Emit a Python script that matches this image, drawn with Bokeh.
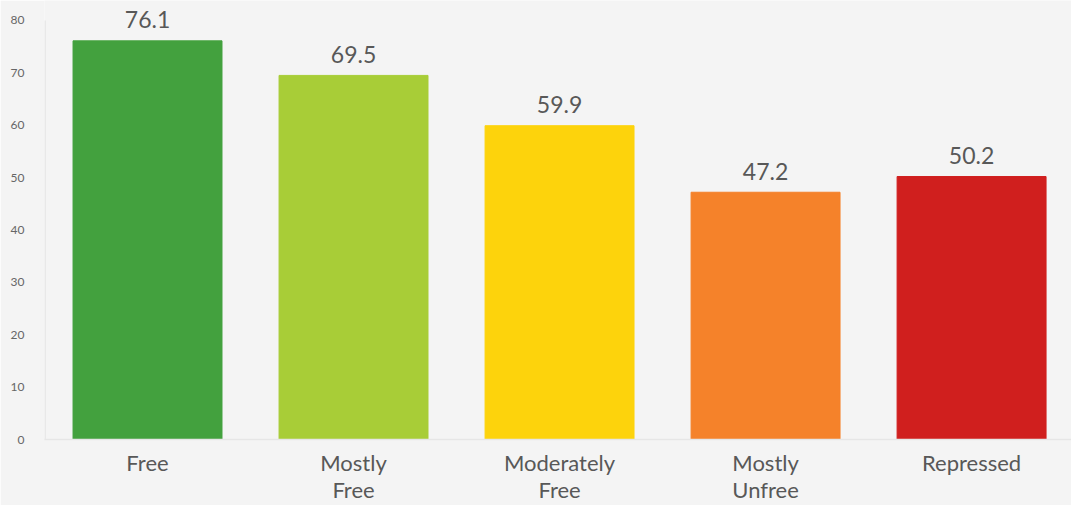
from bokeh.plotting import figure
from bokeh.models import ColumnDataSource, FixedTicker, Range1d
from bokeh.core.properties import value
from bokeh.embed import file_html
from bokeh.resources import INLINE

categories = ["Free", "Mostly\nFree", "Moderately\nFree", "Mostly\nUnfree", "Repressed"]
scores = [76.1, 69.5, 59.9, 47.2, 50.2]
colors = ["#43a13e", "#a8cd37", "#fdd30c", "#f5822a", "#d01f1e"]
y_ticks = [0, 10, 20, 30, 40, 50, 60, 70, 80]

FONT = "Lato"
xs = [i + 0.5 for i in range(len(categories))]

src = ColumnDataSource(dict(
    x=xs, top=scores, color=colors,
    label=[f"{v:.1f}" for v in scores],
))

p = figure(width=1071, height=505, output_backend="svg", toolbar_location=None,
           x_range=Range1d(0, 4.985), y_range=Range1d(0, 83.8),
           background_fill_color="#f4f4f4", border_fill_color="#f4f4f4",
           min_border_left=44, min_border_right=0, min_border_top=0, min_border_bottom=65)
p.outline_line_color = None
p.grid.visible = False

p.vbar(x="x", top="top", width=0.723, bottom=0, color="color", source=src)
p.text(x="x", y="top", text="label", source=src, text_align="center",
       text_baseline="alphabetic", y_offset=-21, text_font=value(FONT),
       text_font_size="23px", text_color="#585858")
p.segment(x0=[0.003], y0=[0], x1=[0.003], y1=[80], line_color="#e6e6e6", line_width=1.5)

p.xaxis.ticker = FixedTicker(ticks=xs)
p.xaxis.major_label_overrides = {x: c for x, c in zip(xs, categories)}
p.xaxis.major_label_text_font = FONT
p.xaxis.major_label_text_font_size = "22px"
p.xaxis.major_label_text_line_height = 1.0
p.xaxis.major_label_text_color = "#585858"
p.xaxis.major_label_standoff = 9
p.xaxis.major_tick_line_color = None
p.xaxis.major_tick_out = 0
p.xaxis.minor_tick_line_color = None
p.xaxis.axis_line_color = "#e6e6e6"
p.xaxis.axis_line_width = 1.5

p.yaxis.ticker = FixedTicker(ticks=y_ticks)
p.yaxis.major_label_text_font = FONT
p.yaxis.major_label_text_font_size = "12px"
p.yaxis.major_label_text_color = "#666666"
p.yaxis.major_label_standoff = 20
p.yaxis.major_tick_line_color = None
p.yaxis.major_tick_out = 0
p.yaxis.minor_tick_line_color = None
p.yaxis.axis_line_color = None

open("out.html", "w").write(file_html(p, INLINE))
